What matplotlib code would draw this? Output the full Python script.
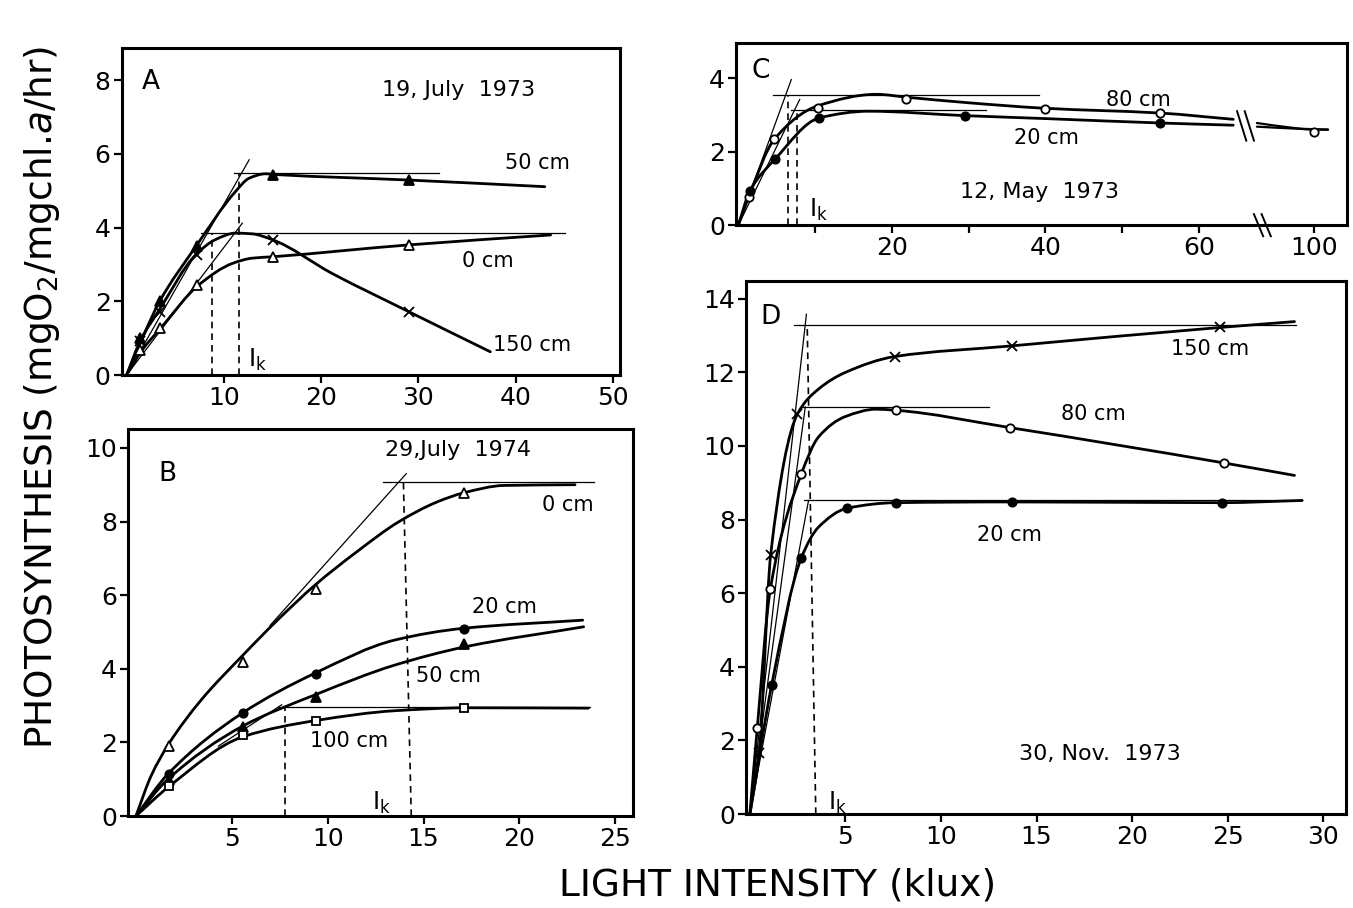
import matplotlib
matplotlib.use("Agg")
import matplotlib.pyplot as plt
from matplotlib.path import Path
from matplotlib.patches import PathPatch

# ---------------- Panel A : 19 July 1973 ----------------
A_X = [1.4, 3.4, 7.2, 15.1, 29.0]
A_50CM = [1.0, 2.0, 3.5, 5.43, 5.29]
A_0CM = [0.68, 1.27, 2.44, 3.21, 3.53]
A_150CM = [0.93, 1.72, 3.26, 3.67, 1.72]

A_CURVE_50_X = [0, 3.4, 7.1, 11.2, 12.6, 14.3, 15.3, 29.0, 43.0]
A_CURVE_50_Y = [0, 2.0, 3.48, 4.98, 5.34, 5.46, 5.44, 5.29, 5.11]
A_CURVE_0_X = [0, 1.6, 3.5, 7.4, 10.9, 12.9, 15.1, 29.0, 43.6]
A_CURVE_0_Y = [0, 0.68, 1.27, 2.44, 3.03, 3.17, 3.21, 3.53, 3.80]
A_CURVE_150_X = [0, 1.44, 3.25, 7.1, 9.1, 11.2, 12.9, 15.0, 21.1, 29.0, 37.4]
A_CURVE_150_Y = [0, 0.95, 1.72, 3.26, 3.67, 3.85, 3.83, 3.67, 2.76, 1.72, 0.63]

A_THIN = [([0, 12.6], [0, 5.84]), ([0, 11.9], [0, 4.12]),
          ([11.0, 32.1], [5.47, 5.47]), ([7.6, 45.1], [3.86, 3.86])]
A_DASHED = [([8.74, 8.74], [0, 3.86]), ([11.57, 11.57], [0, 5.47])]

# ---------------- Panel B : 29 July 1974 ----------------
B_X = [1.7, 5.6, 9.4, 17.1]
B_0CM = [1.89, 4.19, 6.17, 8.78]
B_20CM = [1.13, 2.79, 3.87, 5.09]
B_50CM = [0.99, 2.43, 3.24, 4.68]
B_100CM = [0.81, 2.21, 2.59, 2.93]

B_CURVE_0_X = [0, 0.8, 1.7, 3.4, 5.6, 7.3, 9.4, 11.5, 13.7, 15.7, 17.1, 19.2, 22.9]
B_CURVE_0_Y = [0, 1.1, 1.95, 3.15, 4.38, 5.28, 6.3, 7.17, 7.99, 8.53, 8.78, 8.98, 9.0]
B_CURVE_20_X = [0, 1.65, 5.56, 9.34, 13.5, 17.1, 23.3]
B_CURVE_20_Y = [0, 1.13, 2.8, 3.88, 4.78, 5.1, 5.32]
B_CURVE_50_X = [0, 1.65, 5.56, 9.38, 13.5, 17.2, 23.35]
B_CURVE_50_Y = [0, 0.99, 2.44, 3.3, 4.1, 4.6, 5.14]
B_CURVE_100_X = [0, 1.74, 5.56, 9.46, 13.5, 17.3, 23.6]
B_CURVE_100_Y = [0, 0.81, 2.15, 2.6, 2.86, 2.94, 2.93]

B_THIN = [([7.0, 14.1], [5.18, 9.3]), ([4.3, 7.6], [1.9, 3.02]),
          ([12.9, 23.9], [9.07, 9.07]), ([7.4, 23.7], [2.97, 2.97])]
B_DASHED = [([7.77, 7.77], [0, 2.97]), ([14.36, 13.95], [0, 9.07])]

# ---------------- Panel C : 12 May 1973 (broken x axis) ----------------
C_80_X = [1.33, 4.7, 10.4, 21.9, 40, 54.9, 100]
C_80_Y = [0.76, 2.34, 3.2, 3.42, 3.16, 3.06, 2.54]
C_20_X = [1.5, 4.8, 10.56, 29.6, 54.9]
C_20_Y = [0.93, 1.8, 2.92, 2.98, 2.77]

C_CURVE_80_X = [0, 1.33, 4.7, 10.4, 18, 22, 30, 40, 55, 64.5]
C_CURVE_80_Y = [0, 0.76, 2.34, 3.25, 3.56, 3.48, 3.33, 3.18, 3.05, 2.88]
C_CURVE_20_X = [0, 1.5, 4.8, 10.56, 17, 29.6, 40, 55, 64.5]
C_CURVE_20_Y = [0, 0.93, 1.8, 2.92, 3.1, 2.98, 2.9, 2.78, 2.72]
C_TAIL_80_X = [72, 85, 100, 107]
C_TAIL_80_Y = [2.78, 2.68, 2.6, 2.6]
C_TAIL_20_X = [72, 90, 107]
C_TAIL_20_Y = [2.68, 2.63, 2.6]

C_THIN = [([0, 6.9], [0, 3.96]), ([0, 8.0], [0, 3.42]),
          ([4.5, 39.2], [3.53, 3.53]), ([6.9, 32.3], [3.14, 3.14])]
C_DASHED = [([6.44, 6.44], [0, 3.53]), ([7.7, 7.7], [0, 3.14])]
C_TICKS = [10, 20, 30, 40, 50, 60, 100]
C_TICK_LABELS = ["", "20", "", "40", "", "60", "100"]

# ---------------- Panel D : 30 Nov. 1973 ----------------
D_150_X = [0.49, 1.09, 2.49, 7.58, 13.7, 24.6]
D_150_Y = [1.67, 7.05, 10.87, 12.43, 12.72, 13.22]
D_80_X = [0.39, 1.07, 2.7, 7.64, 13.6, 24.8]
D_80_Y = [2.35, 6.11, 9.25, 10.97, 10.5, 9.54]
D_20_X = [1.14, 2.7, 5.1, 7.64, 13.7, 24.7]
D_20_Y = [3.5, 6.97, 8.31, 8.46, 8.48, 8.44]

D_CURVE_150_X = [0, 0.49, 1.09, 2.49, 3.6, 5.0, 7.58, 13.7, 24.6, 28.5]
D_CURVE_150_Y = [0, 1.67, 7.05, 10.87, 11.55, 12.0, 12.43, 12.72, 13.22, 13.38]
D_CURVE_80_X = [0, 0.39, 1.07, 2.7, 3.6, 5.0, 6.6, 7.64, 13.6, 24.8, 28.5]
D_CURVE_80_Y = [0, 2.35, 6.11, 9.25, 10.25, 10.8, 11.0, 10.97, 10.5, 9.54, 9.2]
D_CURVE_20_X = [0, 1.14, 2.7, 3.6, 5.1, 7.64, 13.7, 24.7, 28.9]
D_CURVE_20_Y = [0, 3.5, 6.97, 7.8, 8.31, 8.46, 8.48, 8.46, 8.52]

D_THIN = [([0, 2.96], [0, 13.58]), ([0, 2.9], [0, 11.06]), ([0, 3.07], [0, 8.52]),
          ([2.3, 28.6], [13.29, 13.29]), ([2.75, 12.5], [11.06, 11.06]),
          ([2.85, 28.9], [8.52, 8.52])]
D_DASHED = [([3.45, 3.0], [0, 13.29])]

TICK_SIZE = 18
LABEL_SIZE = 15
DATE_SIZE = 16
LETTER_SIZE = 19
IK = r"I$_\mathrm{k}$"


def pchip_slopes(xs, ys):
    n = len(xs)
    h = [xs[i + 1] - xs[i] for i in range(n - 1)]
    d = [(ys[i + 1] - ys[i]) / h[i] for i in range(n - 1)]
    m = [0.0] * n
    m[0] = d[0]
    m[-1] = d[-1]
    for i in range(1, n - 1):
        if d[i - 1] * d[i] <= 0:
            m[i] = 0.0
        else:
            w1 = 2 * h[i] + h[i - 1]
            w2 = h[i] + 2 * h[i - 1]
            m[i] = (w1 + w2) / (w1 / d[i - 1] + w2 / d[i])
    return m


def smooth_curve(ax, xs, ys, lw=2.0):
    # monotone cubic through the read points, drawn as Bezier segments
    m = pchip_slopes(xs, ys)
    verts = [(xs[0], ys[0])]
    codes = [Path.MOVETO]
    for i in range(len(xs) - 1):
        h = xs[i + 1] - xs[i]
        verts += [(xs[i] + h / 3, ys[i] + m[i] * h / 3),
                  (xs[i + 1] - h / 3, ys[i + 1] - m[i + 1] * h / 3),
                  (xs[i + 1], ys[i + 1])]
        codes += [Path.CURVE4] * 3
    ax.add_patch(PathPatch(Path(verts, codes), fill=False, lw=lw, color="black",
                           capstyle="round", joinstyle="round"))


def guide_lines(ax, thin, dashed, xmap=lambda v: v):
    for xs, ys in thin:
        ax.plot([xmap(v) for v in xs], ys, color="black", lw=0.9)
    for xs, ys in dashed:
        ax.plot([xmap(v) for v in xs], ys, color="black", lw=1.2, ls=(0, (4, 3)))


def style_axes(ax, xlim, ylim):
    ax.set_xlim(*xlim)
    ax.set_ylim(*ylim)
    for sp in ax.spines.values():
        sp.set_linewidth(2.2)
    ax.tick_params(direction="out", length=6, width=1.6, labelsize=TICK_SIZE, pad=2)


def markers(ax, xs, ys, marker, filled, size=7, xmap=lambda v: v):
    ax.plot([xmap(v) for v in xs], ys, ls="none", marker=marker, ms=size,
            mec="black", mfc="black" if filled else "white", mew=1.3, zorder=5)


fig = plt.figure(figsize=(13.53, 9.08), dpi=100)

# ---- A ----
ax = fig.add_axes([0.090, 0.587, 0.368, 0.360])
style_axes(ax, (-0.5, 50.7), (0, 8.87))
guide_lines(ax, A_THIN, A_DASHED)
smooth_curve(ax, A_CURVE_50_X, A_CURVE_50_Y)
smooth_curve(ax, A_CURVE_0_X, A_CURVE_0_Y)
smooth_curve(ax, A_CURVE_150_X, A_CURVE_150_Y)
markers(ax, A_X, A_50CM, "^", True)
markers(ax, A_X, A_0CM, "^", False)
markers(ax, A_X, A_150CM, "x", False)
ax.set_xticks([10, 20, 30, 40, 50])
ax.set_yticks([0, 2, 4, 6, 8])
ax.text(2.5, 7.96, "A", fontsize=LETTER_SIZE, ha="center", va="center")
ax.text(34.1, 7.74, "19, July  1973", fontsize=DATE_SIZE, ha="center", va="center")
ax.text(42.2, 5.75, "50 cm", fontsize=LABEL_SIZE, ha="center", va="center")
ax.text(37.1, 3.08, "0 cm", fontsize=LABEL_SIZE, ha="center", va="center")
ax.text(41.7, 0.81, "150 cm", fontsize=LABEL_SIZE, ha="center", va="center")
ax.text(13.4, 0.41, IK, fontsize=LABEL_SIZE + 2, ha="center", va="center")

# ---- B ----
ax = fig.add_axes([0.0948, 0.1013, 0.3727, 0.4257])
style_axes(ax, (-0.4, 25.9), (0, 10.5))
guide_lines(ax, B_THIN, B_DASHED)
smooth_curve(ax, B_CURVE_0_X, B_CURVE_0_Y)
smooth_curve(ax, B_CURVE_20_X, B_CURVE_20_Y)
smooth_curve(ax, B_CURVE_50_X, B_CURVE_50_Y)
smooth_curve(ax, B_CURVE_100_X, B_CURVE_100_Y)
markers(ax, B_X, B_0CM, "^", False)
markers(ax, B_X, B_20CM, "o", True, 6)
markers(ax, B_X, B_50CM, "^", True)
markers(ax, B_X, B_100CM, "s", False, 6)
ax.set_xticks([5, 10, 15, 20, 25])
ax.set_yticks([0, 2, 4, 6, 8, 10])
ax.text(1.65, 9.3, "B", fontsize=LETTER_SIZE, ha="center", va="center")
ax.text(16.8, 9.93, "29,July  1974", fontsize=DATE_SIZE, ha="center", va="center")
ax.text(22.5, 8.44, "0 cm", fontsize=LABEL_SIZE, ha="center", va="center")
ax.text(19.2, 5.69, "20 cm", fontsize=LABEL_SIZE, ha="center", va="center")
ax.text(16.3, 3.79, "50 cm", fontsize=LABEL_SIZE, ha="center", va="center")
ax.text(11.1, 2.03, "100 cm", fontsize=LABEL_SIZE, ha="center", va="center")
ax.text(12.8, 0.36, IK, fontsize=LABEL_SIZE + 2, ha="center", va="center")

# ---- C (x axis broken after 66, 100 drawn at 75) ----
def c_map(v):
    return v if v <= 66 else 66 + (v - 66) * 9 / 34


ax = fig.add_axes([0.544, 0.752, 0.4514, 0.2008])
style_axes(ax, (-0.3, 79.3), (0, 4.96))
guide_lines(ax, C_THIN, C_DASHED, c_map)
smooth_curve(ax, C_CURVE_80_X, C_CURVE_80_Y)
smooth_curve(ax, C_CURVE_20_X, C_CURVE_20_Y)
smooth_curve(ax, [c_map(v) for v in C_TAIL_80_X], C_TAIL_80_Y, 1.6)
smooth_curve(ax, [c_map(v) for v in C_TAIL_20_X], C_TAIL_20_Y, 1.6)
markers(ax, C_80_X, C_80_Y, "o", False, 6, c_map)
markers(ax, C_20_X, C_20_Y, "o", True, 6, c_map)
for dx in (0, 1.0):
    ax.plot([65.0 + dx, 66.2 + dx], [3.1, 2.3], color="black", lw=1.4)
    ax.plot([67.2 + dx, 68.4 + dx], [0.3, -0.3], color="black", lw=1.4, clip_on=False)
ax.set_xticks([c_map(v) for v in C_TICKS])
ax.set_xticklabels(C_TICK_LABELS)
ax.set_yticks([0, 2, 4])
ax.text(2.9, 4.2, "C", fontsize=LETTER_SIZE, ha="center", va="center")
ax.text(39.3, 0.91, "12, May  1973", fontsize=DATE_SIZE, ha="center", va="center")
ax.text(52.1, 3.4, "80 cm", fontsize=LABEL_SIZE, ha="center", va="center")
ax.text(40.2, 2.36, "20 cm", fontsize=LABEL_SIZE, ha="center", va="center")
ax.text(10.4, 0.41, IK, fontsize=LABEL_SIZE + 2, ha="center", va="center")

# ---- D ----
ax = fig.add_axes([0.5514, 0.1035, 0.4435, 0.5865])
style_axes(ax, (-0.2, 31.2), (0, 14.47))
guide_lines(ax, D_THIN, D_DASHED)
smooth_curve(ax, D_CURVE_150_X, D_CURVE_150_Y)
smooth_curve(ax, D_CURVE_80_X, D_CURVE_80_Y)
smooth_curve(ax, D_CURVE_20_X, D_CURVE_20_Y)
markers(ax, D_150_X, D_150_Y, "x", False)
markers(ax, D_80_X, D_80_Y, "o", False, 6)
markers(ax, D_20_X, D_20_Y, "o", True, 6)
ax.set_xticks([5, 10, 15, 20, 25, 30])
ax.set_yticks([0, 2, 4, 6, 8, 10, 12, 14])
ax.text(1.1, 13.5, "D", fontsize=LETTER_SIZE, ha="center", va="center")
ax.text(18.3, 1.62, "30, Nov.  1973", fontsize=DATE_SIZE, ha="center", va="center")
ax.text(24.1, 12.64, "150 cm", fontsize=LABEL_SIZE, ha="center", va="center")
ax.text(18.0, 10.87, "80 cm", fontsize=LABEL_SIZE, ha="center", va="center")
ax.text(13.6, 7.58, "20 cm", fontsize=LABEL_SIZE, ha="center", va="center")
ax.text(4.6, 0.31, IK, fontsize=LABEL_SIZE + 2, ha="center", va="center")

fig.text(0.575, 0.025, "LIGHT INTENSITY (klux)", fontsize=27, ha="center", va="center")
fig.text(0.031, 0.562, r"PHOTOSYNTHESIS (mgO$_2$/mgchl.$\mathit{a}$/hr)", fontsize=27,
         rotation=90, ha="center", va="center")

fig.savefig("out.png", dpi=100)
